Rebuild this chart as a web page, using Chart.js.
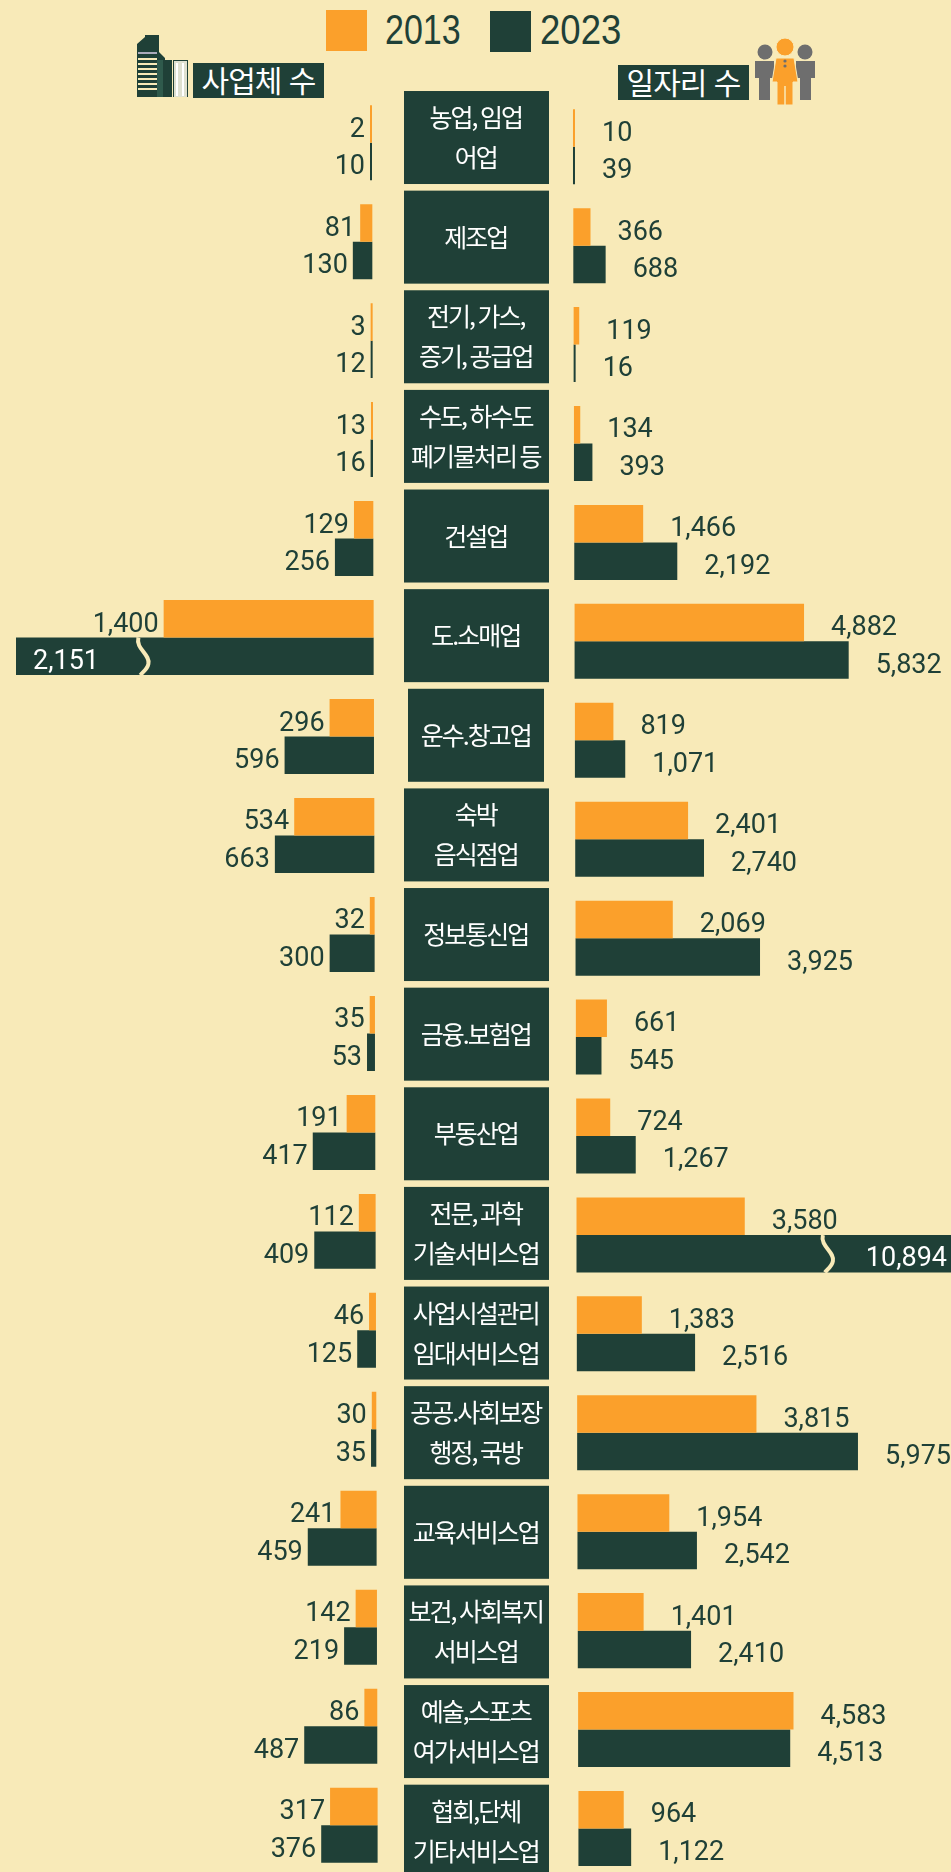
<!DOCTYPE html>
<html lang="ko"><head><meta charset="utf-8">
<script src="https://cdn.jsdelivr.net/npm/chart.js@4"></script>
<style>
html,body{margin:0;padding:0;width:951px;height:1872px;overflow:hidden;background:#F8EAB8}
body{position:relative}
canvas{position:absolute;top:0}
.sw,.lg,.hd,svg{position:absolute}
.lg{font:42px "Liberation Sans",sans-serif;color:#1F4037;line-height:42px;top:9px;transform-origin:left center}
.hd{background:#1F4037;color:#fff;font:400 30px "Noto Sans CJK KR",sans-serif;text-align:center;width:131px;height:35px;line-height:33px;letter-spacing:-1px}
</style></head><body>
<div class="sw" style="left:326px;top:10px;width:41px;height:41px;background:#FBA02B"></div>
<div class="lg" id="lg0" style="left:385px;transform:scaleX(.81)"></div>
<div class="sw" style="left:490px;top:11px;width:41px;height:41px;background:#1F4037"></div>
<div class="lg" id="lg1" style="left:540px;transform:scaleX(.87)"></div>
<div class="hd" id="hd0" style="left:193px;top:63px"></div>
<div class="hd" id="hd1" style="left:618px;top:65px"></div>
<svg style="left:130px;top:30px" width="70" height="72" viewBox="0 0 70 72">
<path d="M7 67V14L15 7V5H29V22L35 28V67Z" fill="#1F4037"/>
<g fill="#F8EAB8"><rect x="8" y="22" width="19" height="2" fill="#aab"/><rect x="8" y="28" width="19" height="2"/><rect x="8" y="33" width="19" height="2"/><rect x="8" y="38" width="19" height="2"/><rect x="8" y="43" width="19" height="2"/><rect x="8" y="48" width="19" height="2"/><rect x="8" y="53" width="19" height="2"/><rect x="8" y="58" width="19" height="2"/></g>
<rect x="27" y="30" width="6" height="37" fill="#2f5a4c"/>
<rect x="34" y="30" width="8" height="37" fill="#1F4037"/>
<rect x="43" y="30" width="15" height="37" fill="#1F4037"/>
<rect x="44" y="31" width="13" height="36" fill="#dfe0d0"/>
<path d="M47 33v33M53 33v33" stroke="#fff" stroke-width="2"/>
</svg>
<svg style="left:750px;top:34px" width="72" height="74" viewBox="0 0 72 74">
<g fill="#6E6E6E"><circle cx="15" cy="18" r="7.5"/><path d="M5 27H24V44H20V66H9V44H5Z"/><circle cx="55" cy="18" r="7.5"/><path d="M46 27H65V44H61V66H50V44H46Z"/></g>
<g fill="#FBA02B" stroke="#F8EAB8" stroke-width="1"><circle cx="35" cy="13" r="9"/><path d="M26 24H44L48 48H43V71H27V48H22Z"/></g>
<path d="M35 52V71" stroke="#F8EAB8" stroke-width="1.5"/>
<circle cx="35" cy="27" r="1.6" fill="#6E6E6E"/><circle cx="35" cy="32" r="1.6" fill="#6E6E6E"/>
</svg>
<canvas id="left" width="402" height="1890" style="left:0"></canvas>
<canvas id="right" width="547" height="1935" style="left:404px"></canvas>
<script>
const categories=[["농업, 임업","어업"],"제조업",["전기, 가스,","증기, 공급업"],["수도, 하수도","폐기물처리 등"],"건설업","도.소매업","운수.창고업",["숙박","음식점업"],"정보통신업","금융.보험업","부동산업",["전문, 과학","기술서비스업"],["사업시설관리","임대서비스업"],["공공.사회보장","행정, 국방"],"교육서비스업",["보건, 사회복지","서비스업"],["예술,스포츠","여가서비스업"],["협회,단체","기타서비스업"]];
const seriesNames=["2013","2023"];
const sideTitles=["사업체 수","일자리 수"];
const firms2013=[2,81,3,13,129,1400,296,534,32,35,191,112,46,30,241,142,86,317];
const firms2023=[10,130,12,16,256,2151,596,663,300,53,417,409,125,35,459,219,487,376];
const jobs2013=[10,366,119,134,1466,4882,819,2401,2069,661,724,3580,1383,3815,1954,1401,4583,964];
const jobs2023=[39,688,16,393,2192,5832,1071,2740,3925,545,1267,10894,2516,5975,2542,2410,4513,1122];

const ORANGE="#FBA02B",DARK="#1F4037",BG="#F8EAB8";
lg0.textContent=seriesNames[0];lg1.textContent=seriesNames[1];
hd0.textContent=sideTitles[0];hd1.textContent=sideTitles[1];

function sideChart(id,cfg){
  const bars={
    id:"bars",
    afterDatasetsUpdate(c){
      c.data.datasets.forEach((d,k)=>c.getDatasetMeta(k).data.forEach((el,i)=>{
        const dx=cfg.dx*i;
        el.x+=dx;el.base+=dx;el.y+=cfg.dy0-cfg.dy1*i;
        if(cfg.gap&&d.data[i]>cfg.over)el.x-=cfg.gap;
      }));
    },
    afterDatasetsDraw(c){
      const ctx=c.ctx;ctx.save();ctx.letterSpacing="0px";
      ctx.font='27px Roboto';ctx.textBaseline="middle";
      c.data.datasets.forEach((d,k)=>c.getDatasetMeta(k).data.forEach((el,i)=>{
        const v=d.data[i],t=v.toLocaleString("en-US"),y=el.y+6;
        if(v>cfg.over){
          const b=c.scales.x.getPixelForValue(cfg.cut)+cfg.dx*i,h=el.height/2;
          ctx.strokeStyle=BG;ctx.lineWidth=4;ctx.beginPath();
          ctx.moveTo(b-2,el.y-h);ctx.bezierCurveTo(b-5,el.y-h*.4,b+10,el.y-h*.1,b+8,el.y+h*.4);
          ctx.bezierCurveTo(b+7,el.y+h*.7,b+2,el.y+h*.85,b,el.y+h);ctx.stroke();
          ctx.fillStyle="#fff";ctx.textAlign=cfg.inAlign;ctx.fillText(t,cfg.inX,y);
        }else{
          ctx.fillStyle=DARK;ctx.textAlign=cfg.align;ctx.fillText(t,el.x+cfg.off,y);
        }
      }));
      ctx.restore();
    }
  };
  const plugins=[bars];
  if(cfg.boxes)plugins.push({id:"boxes",beforeDraw(c){
    const ctx=c.ctx,y=c.scales.y;ctx.save();ctx.fillStyle=DARK;
    categories.forEach((_,i)=>{
      const narrow=i===6,cy=y.getPixelForValue(i);
      ctx.fillRect(narrow?4:0,cy-46.5,narrow?136:145,93);
    });
    ctx.restore();ctx.letterSpacing="-2px";
  }});
  return new Chart(document.getElementById(id),{
    type:"bar",plugins,
    data:{labels:categories,datasets:[
      {label:seriesNames[0],data:cfg.a,backgroundColor:ORANGE},
      {label:seriesNames[1],data:cfg.b,backgroundColor:DARK}]},
    options:{
      indexAxis:"y",responsive:false,animation:false,devicePixelRatio:1,
      layout:{autoPadding:false,padding:{top:87.7,bottom:10,left:0,right:0}},
      categoryPercentage:.753,barPercentage:1,minBarLength:2,
      plugins:{legend:{display:false},tooltip:{enabled:false}},
      scales:{
        x:{display:false,reverse:cfg.reverse,min:cfg.min,max:cfg.max,grid:{display:false}},
        y:{display:cfg.showY,grid:{display:false,drawTicks:false},border:{display:false},
           afterFit(s){if(cfg.showY)s.width=161},
           ticks:{autoSkip:false,color:"#fff",crossAlign:"center",padding:cfg.tickPad,
                  font:{family:'"Noto Sans CJK KR"',size:25,weight:"400",lineHeight:40/25}}}
      }
    }
  });
}
sideChart("left",{a:firms2013,b:firms2023,reverse:true,min:-200,max:2480,showY:false,
  dx:.33,dy0:5.2,dy1:.6,over:2000,cut:1555,gap:35,align:"right",off:-5,inAlign:"left",inX:33});
sideChart("right",{a:jobs2013,b:jobs2023,reverse:false,min:-170,max:8043,showY:true,boxes:true,tickPad:14,
  dx:.32,dy0:9.2,dy1:.7,over:8000,cut:5285,align:"left",off:27,inAlign:"right",inX:543});
</script></body></html>
